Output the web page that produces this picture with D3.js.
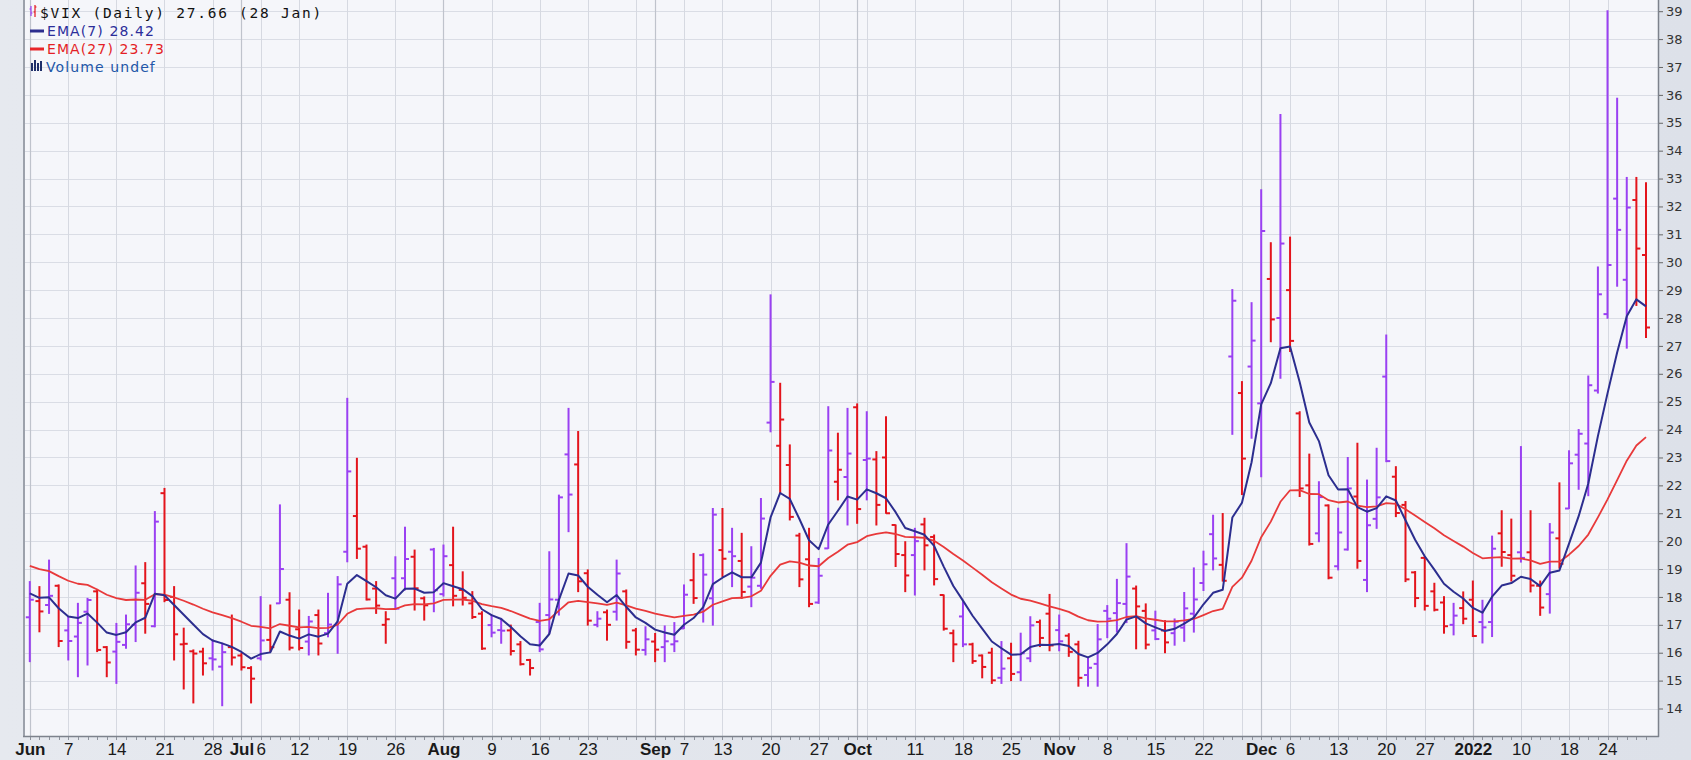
<!DOCTYPE html>
<html><head><meta charset="utf-8">
<script src="https://cdn.jsdelivr.net/npm/d3@7"></script>
<style>
html,body{margin:0;padding:0;background:#e3e6ed;overflow:hidden;}
svg{display:block;}
</style></head><body>
<svg id="chart" width="1691" height="760"></svg>
<script>
// ---------------- DATA ----------------
const monthKeys = ["2021-06","2021-07","2021-08","2021-09","2021-10","2021-11","2021-12","2022-01"];
const monthDays = [
 [1,2,3,4,7,8,9,10,11,14,15,16,17,18,21,22,23,24,25,28,29,30],
 [1,2,6,7,8,9,12,13,14,15,16,19,20,21,22,23,26,27,28,29,30],
 [2,3,4,5,6,9,10,11,12,13,16,17,18,19,20,23,24,25,26,27,30,31],
 [1,2,3,7,8,9,10,13,14,15,16,17,20,21,22,23,24,27,28,29,30],
 [1,4,5,6,7,8,11,12,13,14,15,18,19,20,21,22,25,26,27,28,29],
 [1,2,3,4,5,8,9,10,11,12,15,16,17,18,19,22,23,24,26,29,30],
 [1,2,3,6,7,8,9,10,13,14,15,16,17,20,21,22,23,27,28,29,30,31],
 [3,4,5,6,7,10,11,12,13,14,18,19,20,21,24,25,26,27,28]
];

const opens = [
 17.27,17.85,17.71,18.40,16.80,16.58,17.47,18.20,16.20,16.04,16.28,17.00,18.49,16.95,21.72,18.00,16.30,16.05,16.04,15.80,15.50,16.20,
 15.90,15.45,15.80,16.46,17.77,17.90,16.84,16.40,17.35,16.70,16.99,19.62,20.90,19.80,18.30,17.00,18.67,18.67,19.44,17.95,19.70,
 18.10,19.14,18.25,17.77,17.40,16.99,16.81,16.80,16.30,15.74,17.10,17.35,17.90,23.11,22.75,18.85,17.00,17.45,17.47,18.20,16.80,16.10,
 16.40,16.20,16.30,16.87,18.60,19.50,17.95,19.68,19.62,19.29,18.37,18.40,24.25,23.42,22.73,20.20,19.35,17.80,19.74,22.13,22.30,
 24.80,22.91,22.93,23.00,20.58,19.50,19.50,20.60,20.15,18.07,16.70,17.30,16.30,15.90,16.00,15.10,15.80,15.30,15.80,17.10,17.40,
 16.81,16.61,16.30,15.20,15.60,17.50,17.42,17.75,18.30,17.50,16.80,16.80,16.70,16.90,17.40,18.50,20.25,19.15,26.62,25.31,26.26,
 24.94,29.40,28.00,29.00,24.58,22.00,20.28,21.28,19.10,19.70,21.60,18.61,20.80,25.90,22.31,21.30,18.88,19.40,18.20,17.80,17.00,17.60,
 17.90,17.10,17.10,20.28,19.50,19.60,19.60,18.40,18.10,20.10,21.17,23.10,23.50,25.40,28.14,32.28,29.37,32.23,30.26
];
const highs = [
 18.55,18.37,19.32,18.43,17.29,17.77,17.95,18.27,16.22,17.05,17.35,19.11,19.23,21.06,21.89,18.37,16.88,16.10,16.16,16.46,16.34,17.35,
 15.98,15.50,18.01,17.71,21.30,18.15,17.53,17.30,17.53,18.13,18.73,25.12,22.97,19.86,18.55,17.47,19.44,20.50,19.68,18.00,19.74,
 19.86,20.50,18.90,18.19,17.47,17.35,17.23,16.99,16.40,15.76,17.77,19.62,21.65,24.76,23.93,18.97,17.47,17.53,19.32,18.25,16.87,16.93,
 16.69,16.96,17.08,18.43,19.56,19.54,21.17,21.17,20.46,20.28,19.80,21.53,28.83,25.66,23.45,20.28,20.46,19.38,24.82,23.87,24.76,
 24.92,24.64,23.21,24.46,20.58,19.98,20.46,20.82,20.22,18.07,16.81,17.83,16.34,15.92,16.16,16.40,16.34,16.70,17.29,17.17,18.09,
 17.35,16.68,16.41,15.80,17.01,17.69,18.63,19.91,18.39,17.75,17.49,17.15,17.21,18.16,19.04,19.64,20.93,20.99,29.02,25.72,28.55,
 32.60,30.70,35.30,30.90,24.64,23.12,22.13,21.30,21.18,23.00,23.51,22.19,23.33,27.39,22.67,21.42,18.91,19.44,18.49,18.01,17.77,18.18,
 18.57,17.88,20.18,21.09,20.79,23.39,21.09,18.57,20.63,22.09,23.24,24.00,25.92,29.83,39.02,35.88,33.04,33.04,32.85
];
const lows = [
 15.68,16.75,17.41,16.22,15.74,15.14,15.56,16.04,15.14,14.90,16.16,16.40,16.70,16.93,17.83,15.74,14.70,14.20,15.20,15.38,14.10,15.56,
 15.38,14.20,15.74,16.04,17.77,16.10,16.10,15.92,15.92,16.57,15.98,19.26,19.38,17.89,17.41,16.34,17.55,18.25,17.53,17.17,17.47,
 18.03,17.68,17.71,17.23,16.12,16.57,16.34,15.92,15.56,15.20,16.04,16.69,17.35,20.34,18.19,16.99,16.93,16.45,17.17,16.16,15.92,15.92,
 15.68,15.68,16.04,16.87,17.77,17.10,16.99,18.73,18.37,17.95,17.65,18.31,23.92,21.72,20.76,18.37,17.65,17.77,19.74,21.48,20.58,
 20.64,21.48,20.58,21.00,19.09,18.19,18.07,18.97,18.43,16.81,15.68,16.22,15.62,15.10,14.90,14.90,15.00,15.00,15.68,16.22,16.07,
 16.07,15.87,14.80,14.80,14.80,16.54,16.74,17.08,16.14,16.14,16.47,16.00,16.27,16.41,16.74,18.23,18.97,18.57,23.83,21.67,23.69,
 22.31,27.15,25.84,26.80,21.60,19.86,19.98,18.65,18.97,19.68,19.03,18.19,20.46,22.85,20.88,18.55,17.65,17.53,17.50,16.70,16.64,17.04,
 16.58,16.35,16.58,19.10,18.57,19.25,18.18,17.34,17.42,19.03,21.17,21.86,21.63,25.31,27.99,29.14,26.92,28.45,27.30
];
const closes = [
 17.90,17.48,18.04,16.42,16.42,17.07,17.89,16.10,15.65,16.39,17.02,18.15,17.75,20.70,17.89,16.66,16.32,15.97,15.62,15.76,16.02,15.83,
 15.48,15.07,16.44,16.20,19.00,16.18,16.17,17.12,16.33,17.01,18.45,22.50,19.73,17.91,17.69,17.20,17.58,19.36,18.31,17.70,18.24,
 19.46,18.04,17.97,17.28,16.15,16.72,16.79,16.06,15.59,15.45,16.12,17.91,21.57,21.67,18.56,17.15,17.22,17.00,18.84,16.39,16.11,16.48,
 16.11,16.41,16.41,18.08,17.96,18.80,20.95,19.37,19.46,18.18,18.69,20.81,25.71,24.36,20.87,18.63,17.75,18.76,23.25,22.56,23.14,
 21.15,22.96,21.30,21.00,19.54,18.77,20.00,19.85,18.64,16.86,16.30,16.30,15.70,15.49,15.01,15.43,15.24,15.98,16.98,16.53,16.26,
 16.41,16.03,15.10,15.46,16.48,17.22,17.78,18.73,17.66,16.29,16.49,16.37,17.11,17.59,17.91,19.17,19.38,18.58,28.62,22.96,27.19,
 31.12,27.95,30.67,27.18,21.89,19.90,21.58,18.69,20.31,21.89,19.29,20.57,21.57,22.87,21.01,18.63,17.96,17.68,17.54,16.95,17.33,17.22,
 16.60,16.91,19.73,19.61,18.76,19.40,18.41,17.62,20.31,19.19,22.79,23.85,25.59,28.85,29.90,31.16,31.96,30.49,27.66
];
const prevClose = 16.76;          // close before first bar (colour of first bar)
const ema7Start = 18.13;          // EMA values on first bar (history before the window)
const ema27Start = 19.11;

const xTickDates = ["2021-06-01","2021-06-07","2021-06-14","2021-06-21","2021-06-28","2021-07-01","2021-07-06","2021-07-12","2021-07-19","2021-07-26",
 "2021-08-02","2021-08-09","2021-08-16","2021-08-23","2021-09-01","2021-09-07","2021-09-13","2021-09-20","2021-09-27","2021-10-01",
 "2021-10-11","2021-10-18","2021-10-25","2021-11-01","2021-11-08","2021-11-15","2021-11-22","2021-12-01","2021-12-06","2021-12-13",
 "2021-12-20","2021-12-27","2022-01-03","2022-01-10","2022-01-18","2022-01-24"];
const xTickText = ["Jun","7","14","21","28","Jul","6","12","19","26","Aug","9","16","23","Sep","7","13","20","27","Oct",
 "11","18","25","Nov","8","15","22","Dec","6","13","20","27","2022","10","18","24"];
const yTicks = [14,15,16,17,18,19,20,21,22,23,24,25,26,27,28,29,30,31,32,33,34,35,36,37,38,39];

const legendTitle = "$VIX (Daily) 27.66 (28 Jan)";
const legendEma7 = "EMA(7) 28.42";
const legendEma27 = "EMA(27) 23.73";
const legendVol = "Volume undef";

// ---------------- BUILD ----------------
const dates = [];
monthKeys.forEach((m, k) => monthDays[k].forEach(d => dates.push(m + "-" + String(d).padStart(2, "0"))));
const bars = dates.map((d, i) => ({
  i, date: d, o: opens[i], h: highs[i], l: lows[i], c: closes[i],
  up: closes[i] >= (i === 0 ? prevClose : closes[i - 1])
}));
function emaSeries(vals, n, start) {
  const a = 2 / (n + 1), out = [start];
  for (let i = 1; i < vals.length; i++) out.push(a * vals[i] + (1 - a) * out[i - 1]);
  return out;
}
const ema7 = emaSeries(closes, 7, ema7Start);
const ema27 = emaSeries(closes, 27, ema27Start);

const W = 1691, H = 760;
const plot = {left: 25, right: 1658, top: 0, bottom: 736};
const x = d3.scaleLinear().domain([0, dates.length - 1]).range([29.8, 1646]);
const y = d3.scaleLinear().domain([14, 39]).range([708.5, 11.2]);
const idx = new Map(dates.map((d, i) => [d, i]));

const svg = d3.select("#chart");
const defs = svg.append("defs");
const bg = defs.append("linearGradient").attr("id", "pagebg").attr("x1", 0).attr("y1", 0).attr("x2", 1).attr("y2", 0);
bg.append("stop").attr("offset", "0%").attr("stop-color", "#e6e9ef");
bg.append("stop").attr("offset", "100%").attr("stop-color", "#dde1e9");
defs.append("clipPath").attr("id", "clip").append("rect")
  .attr("x", plot.left).attr("y", plot.top).attr("width", plot.right - plot.left).attr("height", plot.bottom - plot.top);

svg.append("rect").attr("width", W).attr("height", H).attr("fill", "url(#pagebg)");
svg.append("rect").attr("x", plot.left).attr("y", plot.top)
  .attr("width", plot.right - plot.left).attr("height", plot.bottom - plot.top).attr("fill", "#f5f6fa");

const g = svg.append("g").attr("clip-path", "url(#clip)");

// horizontal grid
g.append("g").selectAll("line").data(d3.range(13, 40)).join("line")
  .attr("x1", plot.left).attr("x2", plot.right)
  .attr("y1", d => Math.round(y(d)) + 0.5).attr("y2", d => Math.round(y(d)) + 0.5)
  .attr("stroke", "#dadde5").attr("stroke-width", 1);

// vertical grid: week starts and month starts
const weekStarts = [], monthStarts = [];
bars.forEach((b, i) => {
  const dt = new Date(b.date + "T12:00:00");
  if (i === 0 || b.date.slice(0, 7) !== bars[i - 1].date.slice(0, 7)) monthStarts.push(i);
  else if (dt.getDay() <= new Date(bars[i - 1].date + "T12:00:00").getDay()) weekStarts.push(i);
});
g.append("g").selectAll("line").data(weekStarts).join("line")
  .attr("x1", d => Math.round(x(d)) + 0.5).attr("x2", d => Math.round(x(d)) + 0.5)
  .attr("y1", plot.top).attr("y2", plot.bottom)
  .attr("stroke", "#d6d9e1").attr("stroke-width", 1);
g.append("g").selectAll("line").data(monthStarts).join("line")
  .attr("x1", d => Math.round(x(d)) + 0.5).attr("x2", d => Math.round(x(d)) + 0.5)
  .attr("y1", plot.top).attr("y2", plot.bottom)
  .attr("stroke", "#bfc3cc").attr("stroke-width", 1.2);

// OHLC bars
const purple = "#9a40f2", red = "#e3141c";
const bg2 = g.append("g");
const barG = bg2.selectAll("g").data(bars).join("g").attr("stroke", d => d.up ? purple : red).attr("stroke-width", 2);
barG.append("line").attr("x1", d => x(d.i)).attr("x2", d => x(d.i)).attr("y1", d => y(d.h) - 0.5).attr("y2", d => y(d.l) + 0.5);
barG.append("line").attr("x1", d => x(d.i) - 4).attr("x2", d => x(d.i)).attr("y1", d => y(d.o)).attr("y2", d => y(d.o));
barG.append("line").attr("x1", d => x(d.i)).attr("x2", d => x(d.i) + 4).attr("y1", d => y(d.c)).attr("y2", d => y(d.c));

// EMA lines
const line = d3.line().x((d, i) => x(i)).y(d => y(d));
g.append("path").datum(ema27).attr("d", line).attr("fill", "none").attr("stroke", "#e8393a").attr("stroke-width", 1.8).attr("stroke-linejoin", "round");
g.append("path").datum(ema7).attr("d", line).attr("fill", "none").attr("stroke", "#2c2e8f").attr("stroke-width", 2).attr("stroke-linejoin", "round");

// plot border
svg.append("line").attr("x1", plot.left - 1).attr("x2", plot.left - 1).attr("y1", 0).attr("y2", plot.bottom).attr("stroke", "#9ca1ab").attr("stroke-width", 2);
svg.append("line").attr("x1", plot.right + 0.5).attr("x2", plot.right + 0.5).attr("y1", 0).attr("y2", plot.bottom + 1).attr("stroke", "#7d828c").attr("stroke-width", 1.5);
svg.append("line").attr("x1", plot.left - 2).attr("x2", plot.right + 1).attr("y1", plot.bottom + 0.5).attr("y2", plot.bottom + 0.5).attr("stroke", "#7d828c").attr("stroke-width", 1.5);

// right axis
const yAxis = d3.axisRight(y).tickValues(yTicks).tickSize(4).tickPadding(3).tickFormat(d3.format("d"));
const ya = svg.append("g").attr("transform", `translate(${plot.right + 1},0)`).call(yAxis);
ya.select(".domain").remove();
ya.selectAll("line").attr("stroke", "#666");
ya.selectAll("text").attr("fill", "#333").style("font-family", "'DejaVu Sans', Verdana, sans-serif").style("font-size", "13px");

// bottom axis minor ticks (each bar)
svg.append("g").selectAll("line").data(bars).join("line")
  .attr("x1", d => Math.round(x(d.i)) + 0.5).attr("x2", d => Math.round(x(d.i)) + 0.5)
  .attr("y1", plot.bottom + 1).attr("y2", plot.bottom + 4).attr("stroke", "#8d929b").attr("stroke-width", 1);

// bottom axis labels
const xAxis = d3.axisBottom(x).tickValues(xTickDates.map(d => idx.get(d))).tickSize(0).tickPadding(0)
  .tickFormat((d, i) => xTickText[i]);
const xa = svg.append("g").attr("transform", `translate(0,${plot.bottom})`).call(xAxis);
xa.select(".domain").remove();
xa.selectAll("text")
  .attr("y", 19).attr("dy", 0)
  .attr("fill", "#1a1a1a")
  .style("font-family", "'Liberation Sans Narrow', 'Arial Narrow', sans-serif")
  .style("font-size", "17px")
  .style("font-weight", (d, i) => isNaN(+xTickText[i]) || xTickText[i] === "2022" ? "bold" : "normal");

// legend
const lg = svg.append("g");
// price icon
const ic = lg.append("g").attr("stroke-width", 1.2);
ic.append("line").attr("x1", 31).attr("x2", 31).attr("y1", 6).attr("y2", 16).attr("stroke", purple);
ic.append("line").attr("x1", 29.5).attr("x2", 31).attr("y1", 9).attr("y2", 9).attr("stroke", purple);
ic.append("line").attr("x1", 31).attr("x2", 32.5).attr("y1", 13).attr("y2", 13).attr("stroke", purple);
ic.append("line").attr("x1", 35).attr("x2", 35).attr("y1", 5).attr("y2", 17).attr("stroke", red);
ic.append("line").attr("x1", 33.5).attr("x2", 35).attr("y1", 12).attr("y2", 12).attr("stroke", red);
ic.append("line").attr("x1", 35).attr("x2", 36.5).attr("y1", 7).attr("y2", 7).attr("stroke", red);
lg.append("text").attr("x", 40).attr("y", 18).text(legendTitle)
  .attr("fill", "#111").style("font-family", "'DejaVu Sans Mono', monospace").style("font-size", "14.5px").style("letter-spacing", "1.75px");

lg.append("line").attr("x1", 30).attr("x2", 44).attr("y1", 31).attr("y2", 31).attr("stroke", "#2c2e8f").attr("stroke-width", 3);
lg.append("text").attr("x", 47).attr("y", 36).text(legendEma7)
  .attr("fill", "#2c2e9a").style("font-family", "'DejaVu Sans', sans-serif").style("font-size", "14px").style("letter-spacing", "1.1px");
lg.append("line").attr("x1", 30).attr("x2", 44).attr("y1", 49).attr("y2", 49).attr("stroke", "#e8262a").attr("stroke-width", 3);
lg.append("text").attr("x", 47).attr("y", 54).text(legendEma27)
  .attr("fill", "#e41f26").style("font-family", "'DejaVu Sans', sans-serif").style("font-size", "14px").style("letter-spacing", "1.1px");
// volume icon
const vi = lg.append("g").attr("fill", "#1f2f6a");
[[31,63,8],[34,60,11],[37,63,8],[40,61,10]].forEach(r => vi.append("rect").attr("x", r[0]).attr("y", r[1]).attr("width", 2).attr("height", r[2]));
lg.append("text").attr("x", 46).attr("y", 72).text(legendVol)
  .attr("fill", "#2256a8").style("font-family", "'DejaVu Sans', sans-serif").style("font-size", "14px").style("letter-spacing", "1.1px");
</script>
</body></html>
